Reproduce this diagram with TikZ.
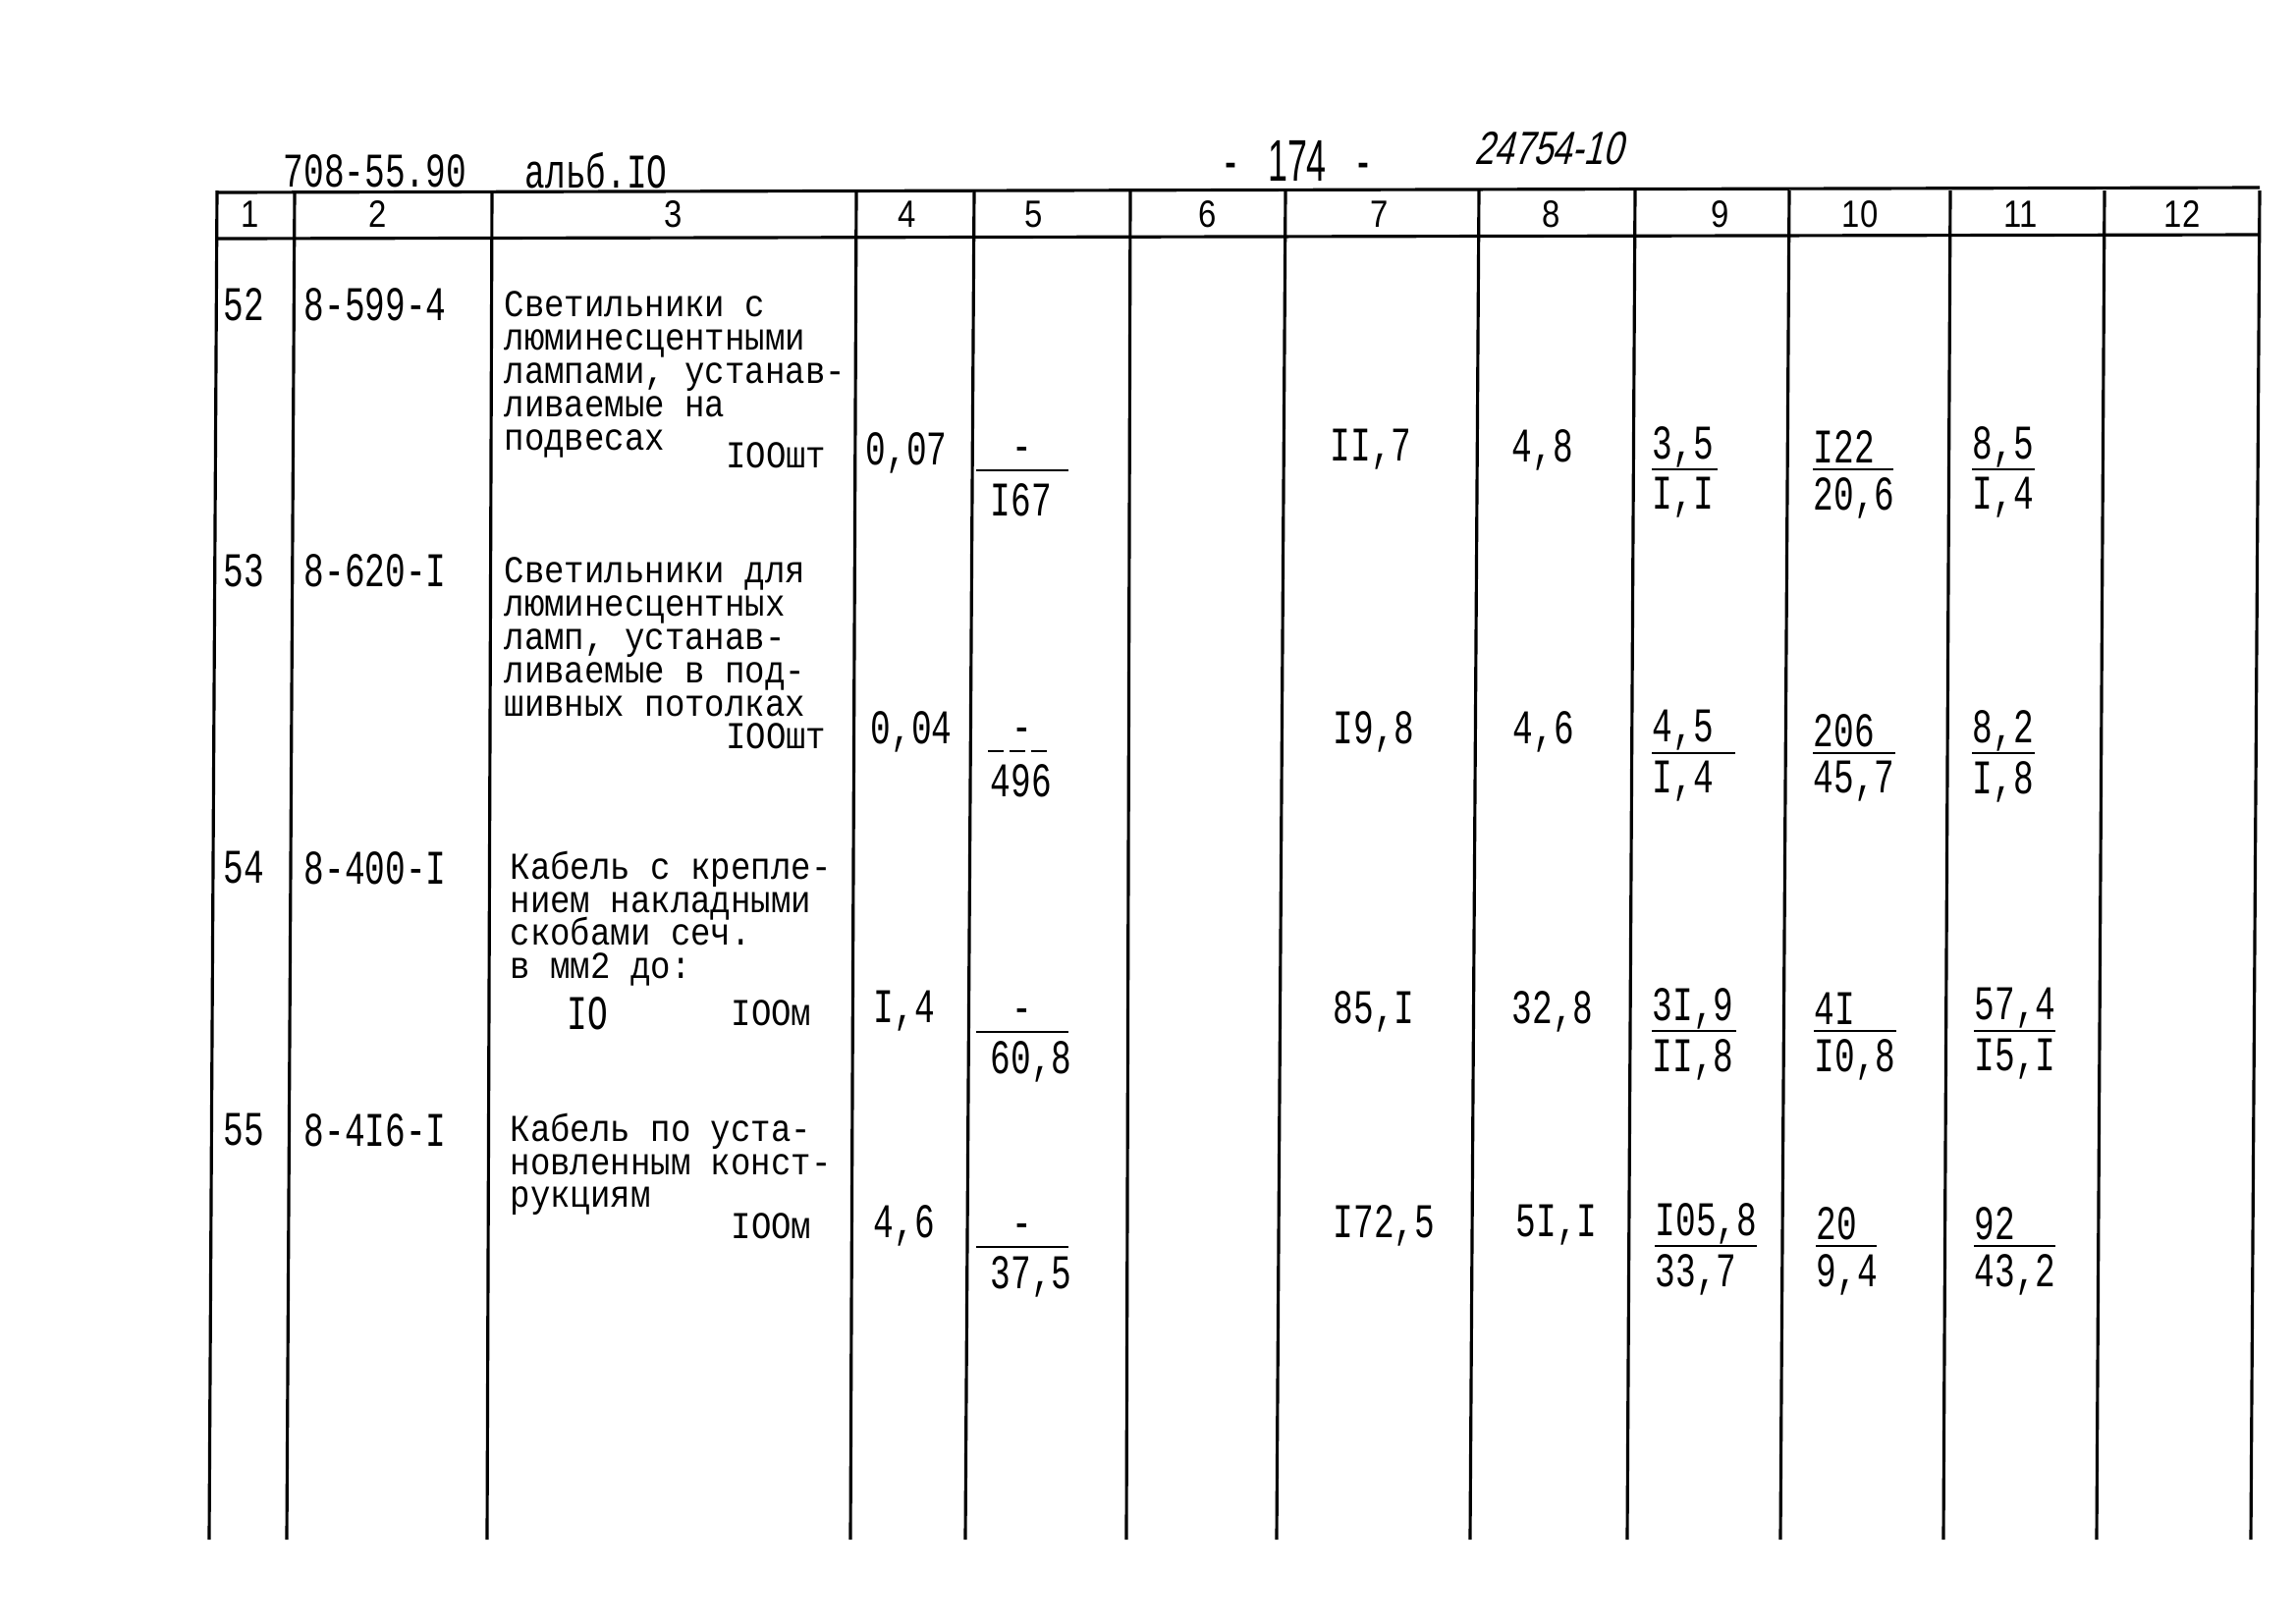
\documentclass[tikz,border=0pt]{standalone}
\usepackage{fontspec}
\newfontfamily\descfont[FakeStretch=0.88]{Liberation Mono}
\newfontfamily\numfont[FakeStretch=0.7]{Liberation Mono}
\newfontfamily\headfont[FakeStretch=0.85]{Liberation Sans}
\newfontfamily\handfont[FakeStretch=0.75,FakeSlant=0.25]{Liberation Sans}
\newfontfamily\stampfont[FakeStretch=0.6]{Liberation Sans}
\newcommand{\tightlines}{\setlength{\lineskiplimit}{-20pt}}

\tikzset{
  cell/.style={inner sep=0pt, anchor=west, font=\numfont\fontsize{14}{14}\selectfont},
  desc/.style={inner sep=0pt, anchor=north west, align=left,
    font=\descfont\fontsize{11}{9.65}\selectfont\tightlines},
  unit/.style={inner sep=0pt, anchor=east, font=\descfont\fontsize{11}{11}\selectfont},
  head/.style={inner sep=0pt, font=\headfont\fontsize{11}{11}\selectfont},
  rule/.style={line width=0.9pt},
  bar/.style={line width=0.6pt}
}

% fraction cell: name, x, y, numerator, denominator, bar length
\newcommand{\fracell}[6]{%
  \node[cell] (#1n) at (#2,#3) {#4};
  \node[cell] (#1d) at (#2,#3+52) {#5};
  \draw[bar] ([yshift=-0.23cm]#1n.west) -- ++(#6,0);
}
% cost cell of column 5: name, y, denominator, bar start, bar end, bar style
\newcommand{\costcell}[6]{%
  \coordinate (#1a) at (#4,#2+24);
  \coordinate (#1b) at (#5,#2+24);
  \node[cell, anchor=center] (#1n) at (1041,#2+8) {-};
  \node[cell] (#1d) at (1008,#2+54) {#3};
  \draw[bar,#6] (#1a) -- (#1b);
}

\begin{document}
\begin{tikzpicture}[x=0.01cm, y=-0.01cm]
  \useasboundingbox (0,0) rectangle (2338,1653);
  \fill[white] (0,0) rectangle (2338,1653);

  % page head
  \node[cell] (doc) at (288,174) {708-55.90};
  \node[cell] (alb) at (534,174) {альб.IO};
  \node[inner sep=0pt, font=\stampfont\fontsize{17}{17}\selectfont] (page) at (1321,164) {-\hspace{9pt}174\hspace{9pt}-};
  \node[inner sep=0pt, anchor=west, font=\handfont\fontsize{13.5}{13.5}\selectfont] (inv) at (1501,151) {24754-10};

  % table frame
  \draw[rule] (221,196) -- (2301,191);
  \draw[rule] (221,243) -- (2301,239);
  \foreach \xt/\xb in {221/213, 300/292, 501/496, 872/866, 992/983, 1151/1147,
                       1309/1300, 1506/1497, 1665/1657, 1822/1813, 1986/1979,
                       2143/2135, 2301/2292}
    \draw[rule] (\xt,194) -- (\xb,1568);

  % column numbers
  \foreach \n/\x in {1/255, 2/385, 3/686, 4/924, 5/1053, 6/1230, 7/1405,
                     8/1580, 9/1752, 10/1894, 11/2058, 12/2222}
    \node[head] (h\n) at (\x,218) {\n};

  % row 52
  \node[cell] (n52) at (227,310) {52};
  \node[cell] (c52) at (309,310) {8-599-4};
  \node[desc] (d52) at (513,296) {Светильники с\\люминесцентными\\лампами, устанав-\\ливаемые на\\подвесах};
  \node[unit] (u52) at (842,464) {IOOшт};
  \node[cell] (q52) at (881,461) {0,07};
  \costcell{p52}{455}{I67}{994}{1088}{}
  \node[cell] (s52) at (1354,458) {II,7};
  \node[cell] (w52) at (1539,458) {4,8};
  \fracell{a52}{1682}{455}{3,5}{I,I}{67}
  \fracell{b52}{1846}{455}{I22}{20,6}{82}
  \fracell{e52}{2008}{455}{8,5}{I,4}{64}

  % row 53
  \node[cell] (n53) at (227,581) {53};
  \node[cell] (c53) at (309,581) {8-620-I};
  \node[desc] (d53) at (513,567) {Светильники для\\люминесцентных\\ламп, устанав-\\ливаемые в под-\\шивных потолках};
  \node[unit] (u53) at (842,750) {IOOшт};
  \node[cell] (q53) at (886,745) {0,04};
  \costcell{p53}{741}{496}{1006}{1069}{dash pattern=on 0.16cm off 0.06cm}
  \node[cell] (s53) at (1357,745) {I9,8};
  \node[cell] (w53) at (1540,745) {4,6};
  \fracell{a53}{1682}{744}{4,5}{I,4}{85}
  \fracell{b53}{1846}{744}{206}{45,7}{84}
  \fracell{e53}{2008}{744}{8,2}{I,8}{64}

  % row 54
  \node[cell] (n54) at (227,884) {54};
  \node[cell] (c54) at (309,884) {8-400-I};
  \node[desc] (d54) at (519,866) {Кабель с крепле-\\нием накладными\\скобами сеч.\\в мм2 до:};
  \node[cell, anchor=center] (t54) at (598,1032) {IO};
  \node[unit] (u54) at (827,1032) {IOOм};
  \node[cell] (q54) at (889,1030) {I,4};
  \costcell{p54}{1027}{60,8}{994}{1088}{}
  \node[cell] (s54) at (1357,1030) {85,I};
  \node[cell] (w54) at (1539,1030) {32,8};
  \fracell{a54}{1682}{1027}{3I,9}{II,8}{86}
  \fracell{b54}{1847}{1027}{4I}{I0,8}{84}
  \fracell{e54}{2010}{1027}{57,4}{I5,I}{83}

  % row 55
  \node[cell] (n55) at (227,1151) {55};
  \node[cell] (c55) at (309,1151) {8-4I6-I};
  \node[desc] (d55) at (519,1133) {Кабель по уста-\\новленным конст-\\рукциям};
  \node[unit] (u55) at (827,1249) {IOOм};
  \node[cell] (q55) at (889,1248) {4,6};
  \costcell{p55}{1246}{37,5}{994}{1088}{}
  \node[cell] (s55) at (1357,1248) {I72,5};
  \node[cell] (w55) at (1543,1248) {5I,I};
  \fracell{a55}{1685}{1246}{I05,8}{33,7}{104}
  \fracell{b55}{1849}{1246}{20}{9,4}{62}
  \fracell{e55}{2010}{1246}{92}{43,2}{83}
\end{tikzpicture}
\end{document}
